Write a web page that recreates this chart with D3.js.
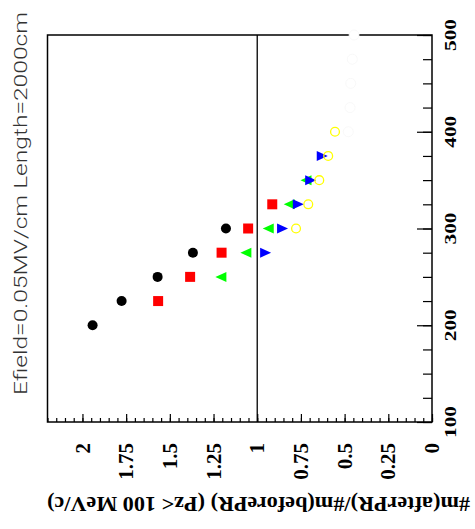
<!DOCTYPE html>
<html>
<head>
<meta charset="utf-8">
<script src="https://cdn.jsdelivr.net/npm/d3@7"></script>
<style>
  body { margin: 0; background: #fff; }
  svg { display: block; }
</style>
</head>
<body>
<svg id="chart" width="475" height="529"></svg>
<script>
// Pz cut (MeV/c) and after/before ratio for each marker series
var blackPz = [200, 225, 250, 275, 300],
    blackRatio = [1.942, 1.776, 1.570, 1.368, 1.179];
var redPz = [225, 250, 275, 300, 325],
    redRatio = [1.567, 1.384, 1.204, 1.052, 0.914];
var greenPz = [250, 275, 300, 325, 350],
    greenRatio = [1.208, 1.065, 0.937, 0.817, 0.721];
var bluePz = [275, 300, 325, 350, 375],
    blueRatio = [0.952, 0.855, 0.765, 0.694, 0.628];
var yellowPz = [300, 325, 350, 375, 400],
    yellowRatio = [0.778, 0.708, 0.645, 0.594, 0.555];
var whitePz = [400, 425, 450, 475, 500],
    whiteRatio = [0.479, 0.469, 0.465, 0.456, 0.446];

var ratioTicks = [0, 0.25, 0.5, 0.75, 1, 1.25, 1.5, 1.75, 2],
    ratioLabels = ["0", "0.25", "0.5", "0.75", "1", "1.25", "1.5", "1.75", "2"];
var pzTicks = [100, 200, 300, 400, 500],
    pzLabels = ["100", "200", "300", "400", "500"];

var svg = d3.select("#chart");

// ratio runs right-to-left along the bottom, Pz bottom-to-top
var x = d3.scaleLinear().domain([0, 2.2]).range([432, 47.5]),
    y = d3.scaleLinear().domain([100, 500]).range([422, 35]);

var serif = "'Liberation Serif', 'Times New Roman', serif";

// frame
svg.append("rect")
    .attr("x", x(2.2))
    .attr("y", y(500))
    .attr("width", x(0) - x(2.2))
    .attr("height", y(100) - y(500))
    .attr("fill", "none")
    .attr("stroke", "#000")
    .attr("stroke-width", 1.5);

// bottom ticks (inside, pointing up)
var minorX = d3.range(0, 2.2001, 0.05);
svg.append("g")
    .attr("transform", "translate(0," + y(100) + ")")
    .call(d3.axisTop(x).tickValues(minorX).tickSize(4).tickFormat(""))
    .call(function(g) { g.select(".domain").remove(); });
svg.append("g")
    .attr("transform", "translate(0," + y(100) + ")")
    .call(d3.axisTop(x).tickValues(ratioTicks).tickSize(8).tickFormat(""))
    .call(function(g) { g.select(".domain").remove(); });

// right ticks (inside, pointing left)
var minorY = d3.range(100, 501, 25);
svg.append("g")
    .attr("transform", "translate(" + x(0) + ",0)")
    .call(d3.axisLeft(y).tickValues(minorY).tickSize(9).tickFormat(""))
    .call(function(g) { g.select(".domain").remove(); });
svg.append("g")
    .attr("transform", "translate(" + x(0) + ",0)")
    .call(d3.axisLeft(y).tickValues(pzTicks).tickSize(15).tickFormat(""))
    .call(function(g) { g.select(".domain").remove(); });
svg.selectAll(".tick line").attr("stroke", "#000").attr("stroke-width", 1.2);

// ratio = 1 reference line
svg.append("line")
    .attr("x1", x(1)).attr("x2", x(1))
    .attr("y1", y(100)).attr("y2", y(500))
    .attr("stroke", "#000")
    .attr("stroke-width", 1.3);

// tick labels, rotated
svg.append("g").selectAll("text")
    .data(ratioTicks)
  .enter().append("text")
    .attr("transform", function(d) { return "translate(" + x(d) + ",443) rotate(-90)"; })
    .attr("text-anchor", "end")
    .attr("dy", "0.34em")
    .style("font-family", serif)
    .style("font-weight", "bold")
    .style("font-size", "21px")
    .text(function(d, i) { return ratioLabels[i]; });

svg.append("g").selectAll("text")
    .data(pzTicks)
  .enter().append("text")
    .attr("transform", function(d) { return "translate(450.5," + y(d) + ") rotate(-90)"; })
    .attr("text-anchor", "middle")
    .attr("dy", "0.34em")
    .attr("textLength", 32)
    .attr("lengthAdjust", "spacingAndGlyphs")
    .style("font-family", serif)
    .style("font-weight", "bold")
    .style("font-size", "16px")
    .text(function(d, i) { return pzLabels[i]; });

// titles
svg.append("text")
    .attr("transform", "translate(20,395) rotate(-90)")
    .attr("text-anchor", "start")
    .attr("dy", "0.36em")
    .attr("textLength", 383)
    .attr("lengthAdjust", "spacingAndGlyphs")
    .style("font-family", "Roboto, 'Liberation Sans', sans-serif")
    .style("font-weight", 300)
    .style("font-size", "18.5px")
    .style("fill", "#333")
    .text("Efield=0.05MV/cm Length=2000cm");

svg.append("text")
    .attr("transform", "translate(258.5,497) rotate(180)")
    .attr("text-anchor", "middle")
    .attr("textLength", 423)
    .attr("lengthAdjust", "spacingAndGlyphs")
    .style("font-family", serif)
    .style("font-weight", "bold")
    .style("font-size", "21px")
    .text("#m(afterPR)/#m(beforePR) (Pz< 100 MeV/c)");

// markers
function pairs(pz, ratio) {
  return pz.map(function(p, i) { return {pz: p, ratio: ratio[i]}; });
}
function place(d) { return "translate(" + x(d.ratio) + "," + y(d.pz) + ")"; }

// triangle pointing left (dir = -1) or right (dir = 1)
function triangle(dir) {
  var w = 5.5, h = 5;
  return "M" + (dir * w) + ",0L" + (-dir * w) + "," + (-h) + "L" + (-dir * w) + "," + h + "Z";
}

svg.append("g").selectAll("circle")
    .data(pairs(blackPz, blackRatio))
  .enter().append("circle")
    .attr("cx", function(d) { return x(d.ratio); })
    .attr("cy", function(d) { return y(d.pz); })
    .attr("r", 5)
    .attr("fill", "#000");

svg.append("g").selectAll("path")
    .data(pairs(redPz, redRatio))
  .enter().append("path")
    .attr("transform", place)
    .attr("d", d3.symbol(d3.symbolSquare, 100))
    .attr("fill", "#ff0000");

svg.append("g").selectAll("path")
    .data(pairs(greenPz, greenRatio))
  .enter().append("path")
    .attr("transform", place)
    .attr("d", triangle(-1))
    .attr("fill", "#00ff00");

svg.append("g").selectAll("path")
    .data(pairs(bluePz, blueRatio))
  .enter().append("path")
    .attr("transform", place)
    .attr("d", triangle(1))
    .attr("fill", "#0000ff");

svg.append("g").selectAll("circle")
    .data(pairs(yellowPz, yellowRatio))
  .enter().append("circle")
    .attr("cx", function(d) { return x(d.ratio); })
    .attr("cy", function(d) { return y(d.pz); })
    .attr("r", 4.4)
    .attr("fill", "none")
    .attr("stroke", "#ffff00")
    .attr("stroke-width", 1.3);

// white markers sit on top of the frame
svg.append("g").selectAll("circle")
    .data(pairs(whitePz, whiteRatio))
  .enter().append("circle")
    .attr("cx", function(d) { return x(d.ratio); })
    .attr("cy", function(d) { return y(d.pz); })
    .attr("r", 5)
    .attr("fill", "#fff")
    .attr("stroke", "#f6f6f6")
    .attr("stroke-width", 0.8);
</script>
</body>
</html>
